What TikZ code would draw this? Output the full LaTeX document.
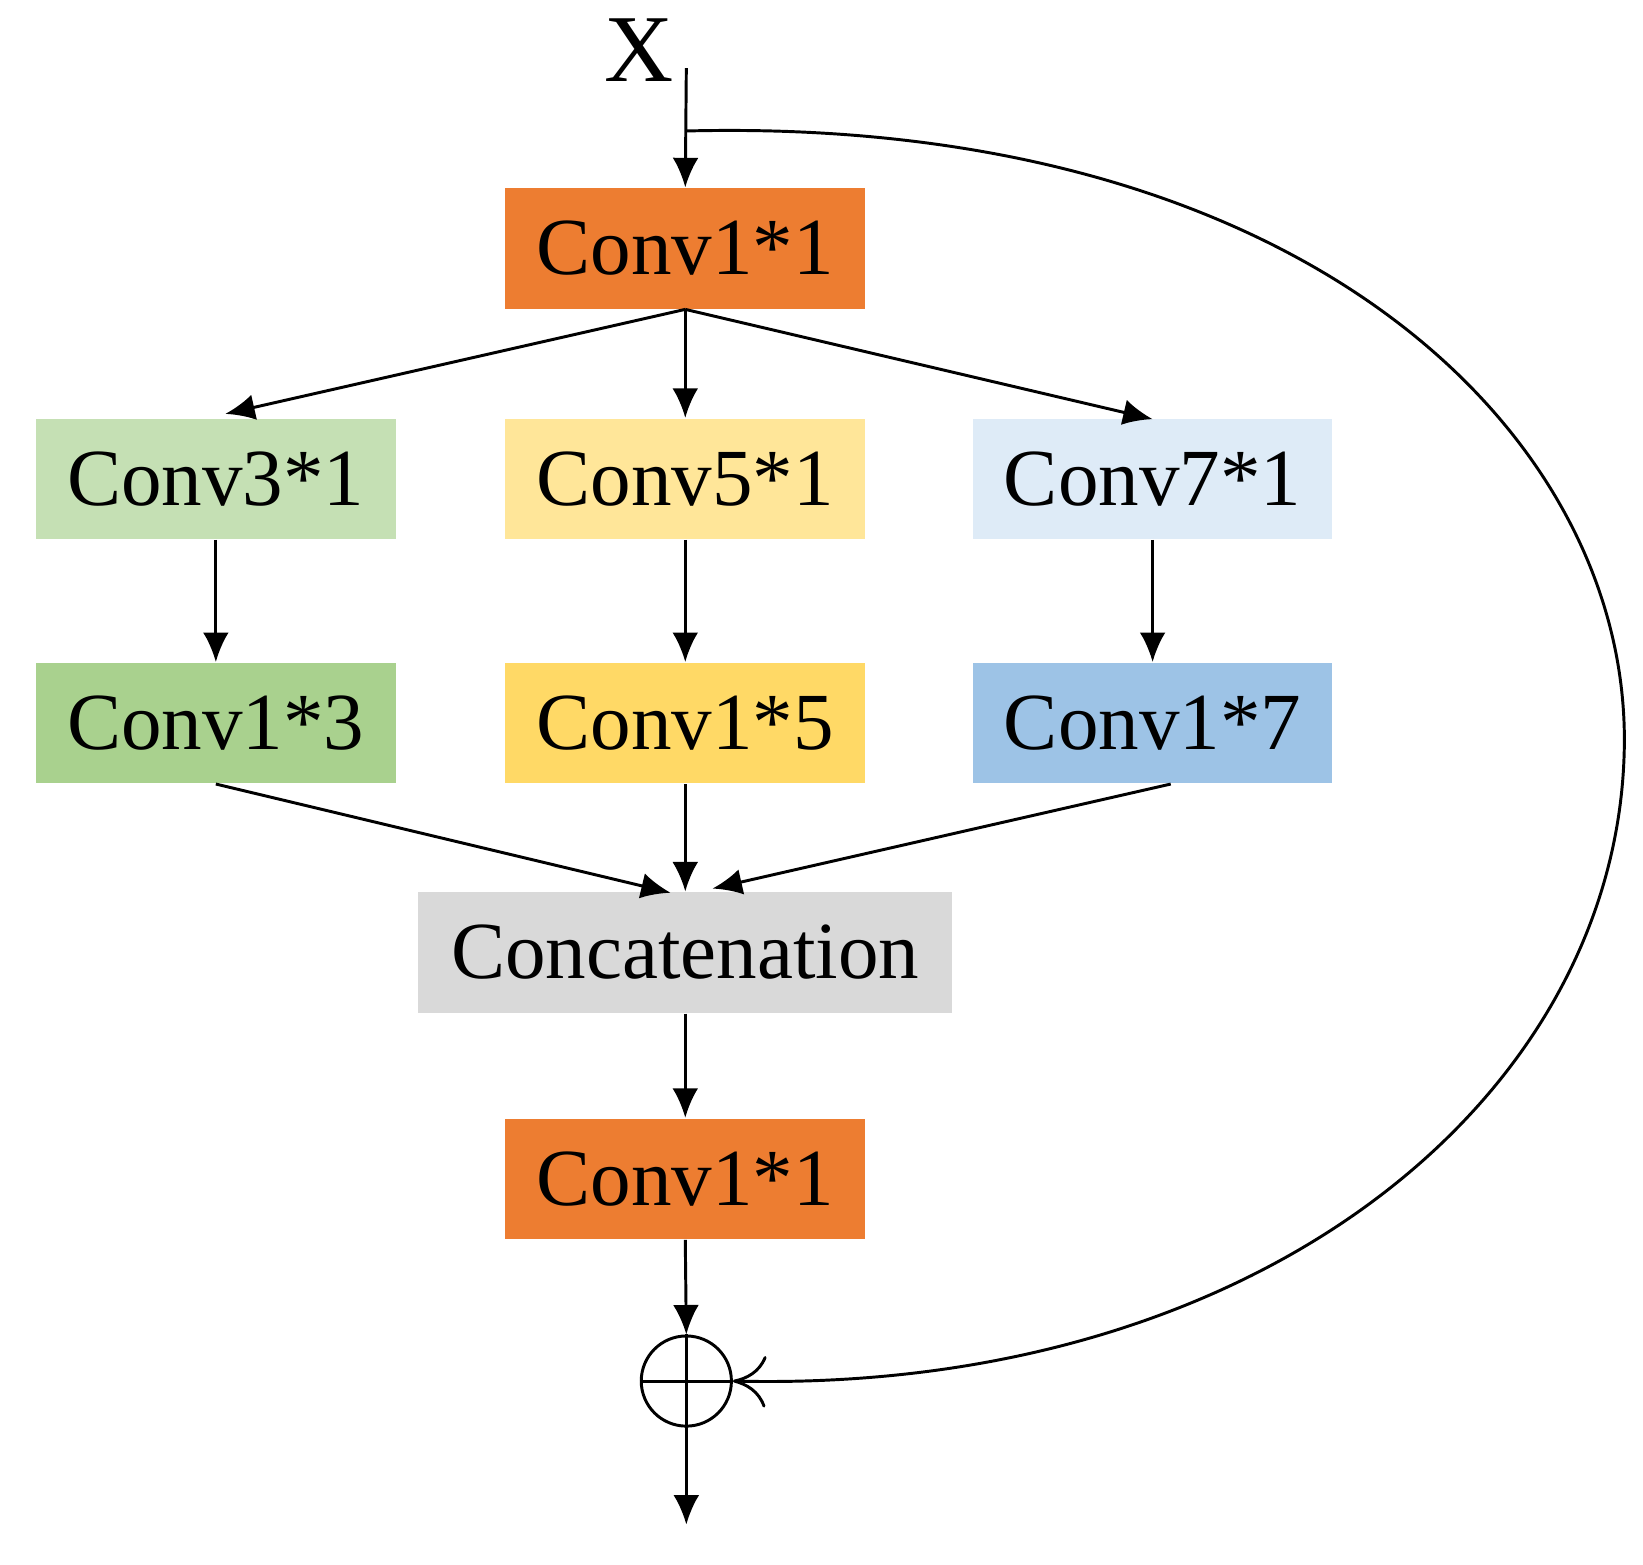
\documentclass[tikz,border=0pt]{standalone}
\usepackage{fontspec}
\setmainfont{Liberation Serif}
\usetikzlibrary{arrows.meta}
\definecolor{orangeC}{HTML}{ED7D31}
\definecolor{greenA}{HTML}{C5E0B4}
\definecolor{greenB}{HTML}{A9D18E}
\definecolor{yellowA}{HTML}{FFE699}
\definecolor{yellowB}{HTML}{FFD966}
\definecolor{blueA}{HTML}{DEEBF7}
\definecolor{blueB}{HTML}{9DC3E6}
\definecolor{grayA}{HTML}{D9D9D9}
\begin{document}
\begin{tikzpicture}[x=0.01cm,y=-0.01cm,
    box/.style={minimum width=3.43cm,minimum height=1.15cm,inner sep=0pt,font=\fontsize{22}{26}\selectfont},
    arr/.style={thick,-{Latex[length=8pt,width=7pt]}}]
        \useasboundingbox (0,0) rectangle (1568,1493);
        \node [box,fill=orangeC] (c11) at (654,237) {Conv1*1};
        \node [box,fill=greenA] (c31) at (206,457) {Conv3*1};
        \node [box,fill=yellowA] (c51) at (654,457) {Conv5*1};
        \node [box,fill=blueA] (c71) at (1100,457) {Conv7*1};
        \node [box,fill=greenB] (c13) at (206,690) {Conv1*3};
        \node [box,fill=yellowB] (c15) at (654,690) {Conv1*5};
        \node [box,fill=blueB] (c17) at (1100,690) {Conv1*7};
        \node [box,fill=grayA,minimum width=5.09cm] (cat) at (654,909) {Concatenation};
        \node [box,fill=orangeC] (out) at (654,1125) {Conv1*1};
        \node [draw,thick,circle,minimum size=0.86cm,inner sep=0pt] (add) at (655,1318) {};
        \draw [thick] (add.north) -- (add.south) (add.west) -- (add.east);
        \node [font=\fontsize{26}{30}\selectfont] (x) at (610,48) {X};
        \coordinate (in) at (655,65);
        \coordinate (split) at (655,125);
        \coordinate (end) at (655,1455);
        \draw [arr] (in) -- (c11.north);
        \draw [arr] (c11.south) -- (215,395);
        \draw [arr] (c11.south) -- (c51.north);
        \draw [arr] (c11.south) -- (1100,400);
        \draw [arr] (c31.south) -- (c13.north);
        \draw [arr] (c51.south) -- (c15.north);
        \draw [arr] (c71.south) -- (c17.north);
        \draw [arr] (c13.south) -- (640,852);
        \draw [arr] (c15.south) -- (cat.north);
        \draw [arr] (c17.south east) ++(-155,0) -- (680,848);
        \draw [arr] (cat.south) -- (out.north);
        \draw [arr] (out.south) -- (add.north);
        \draw [arr] (add.south) -- (end);
        \draw [thick,-{To[length=9pt,width=14pt]}] (split) .. controls (1250,110) and (1560,420) .. (1550,720)
            .. controls (1540,1050) and (1200,1330) .. (add.east);
    \end{tikzpicture}
\end{document}
